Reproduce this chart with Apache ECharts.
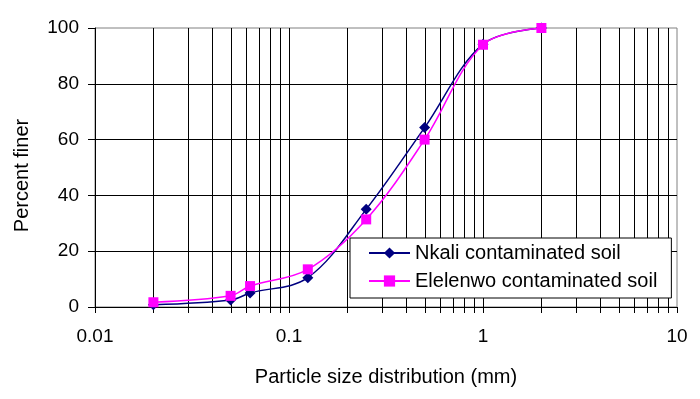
<!DOCTYPE html>
<html>
<head>
<meta charset="utf-8">
<script src="https://cdn.jsdelivr.net/npm/echarts@6/dist/echarts.min.js"></script>
<style>
  html, body { margin: 0; padding: 0; background: #fff; }
  #chart { width: 700px; height: 399px; }
</style>
</head>
<body>
<div id="chart"></div>
<script>
// particle size (mm) and percent finer
var sizes = [0.02, 0.05, 0.063, 0.125, 0.25, 0.5, 1, 2];
var nkali = [0.8, 2.5, 5, 10.5, 35, 64.3, 94.2, 100];
var elelenwo = [1.7, 4, 7.5, 13.5, 31.4, 60, 94, 100];

var xTicks = [0.01, 0.1, 1, 10];
var yTicks = [0, 20, 40, 60, 80, 100];
var decades = [0.01, 0.1, 1];
var minorSteps = [2, 3, 4, 5, 6, 7, 8, 9];

var font = "'Liberation Sans', Arial, sans-serif";

function pairs(xs, ys) {
  return xs.map(function (x, i) { return [x, ys[i]]; });
}

var minorLines = [];
decades.forEach(function (d) {
  minorSteps.forEach(function (k) {
    minorLines.push([+(d * k).toPrecision(6), 0]);
  });
});

var chart = echarts.init(document.getElementById("chart"));
chart.setOption({
  backgroundColor: "#ffffff",
  animation: false,
  textStyle: { fontFamily: font },
  grid: {
    left: 95,
    right: 23,
    top: 28,
    bottom: 92,
    show: true,
    borderColor: "#808080",
    borderWidth: 1
  },
  legend: {
    orient: "vertical",
    left: 350,
    top: 238,
    data: ["Nkali contaminated soil", "Elelenwo contaminated soil"],
    backgroundColor: "#ffffff",
    borderColor: "#000000",
    borderWidth: 1,
    padding: [5, 14, 7, 18],
    itemGap: 8,
    itemWidth: 41,
    itemHeight: 14,
    textStyle: { fontSize: 20, color: "#000", fontFamily: font }
  },
  xAxis: {
    type: "log",
    logBase: 10,
    min: xTicks[0],
    max: xTicks[xTicks.length - 1],
    name: "Particle size distribution (mm)",
    nameLocation: "middle",
    nameGap: 60,
    nameTextStyle: { fontSize: 20, color: "#000", fontFamily: font },
    axisLine: { lineStyle: { color: "#000", width: 1 } },
    axisTick: { show: true, inside: false, length: 6, lineStyle: { color: "#000" } },
    axisLabel: {
      fontSize: 19,
      color: "#000",
      margin: 20,
      formatter: function (v) { return String(+(+v).toPrecision(6)); }
    },
    splitLine: { show: true, showMaxLine: false, lineStyle: { color: "#000", width: 1 } }
  },
  yAxis: {
    type: "value",
    min: yTicks[0],
    max: yTicks[yTicks.length - 1],
    interval: 20,
    name: "Percent finer",
    nameLocation: "middle",
    nameGap: 63,
    nameTextStyle: { fontSize: 20, color: "#000", fontFamily: font, padding: [0, 16, 0, 0] },
    axisLine: { show: true, lineStyle: { color: "#000", width: 1 } },
    axisTick: { show: true, inside: false, length: 7, lineStyle: { color: "#000" } },
    axisLabel: { fontSize: 19, color: "#000", margin: 16 },
    splitLine: { show: true, showMaxLine: false, lineStyle: { color: "#000", width: 1 } }
  },
  series: [
    {
      // minor log grid lines and ticks at 2..9 of each decade
      type: "custom",
      name: "minor",
      silent: true,
      clip: false,
      z: 1,
      data: minorLines,
      encode: { x: 0, y: 1 },
      renderItem: function (params, api) {
        var bottom = api.coord([api.value(0), yTicks[0]]);
        var top = api.coord([api.value(0), yTicks[yTicks.length - 1]]);
        var x = Math.round(bottom[0]) + 0.5;
        return {
          type: "line",
          shape: { x1: x, y1: top[1], x2: x, y2: bottom[1] + 6 },
          style: { stroke: "#000", lineWidth: 1 }
        };
      }
    },
    {
      name: "Nkali contaminated soil",
      type: "line",
      z: 3,
      smooth: 0.35,
      data: pairs(sizes, nkali),
      symbol: "diamond",
      symbolSize: 11,
      showAllSymbol: true,
      lineStyle: { color: "#000080", width: 1.5 },
      itemStyle: { color: "#000080" }
    },
    {
      name: "Elelenwo contaminated soil",
      type: "line",
      z: 4,
      smooth: 0.35,
      data: pairs(sizes, elelenwo),
      symbol: "rect",
      symbolSize: 10,
      showAllSymbol: true,
      lineStyle: { color: "#ff00ff", width: 1.5 },
      itemStyle: { color: "#ff00ff" }
    }
  ]
});
</script>
</body>
</html>
